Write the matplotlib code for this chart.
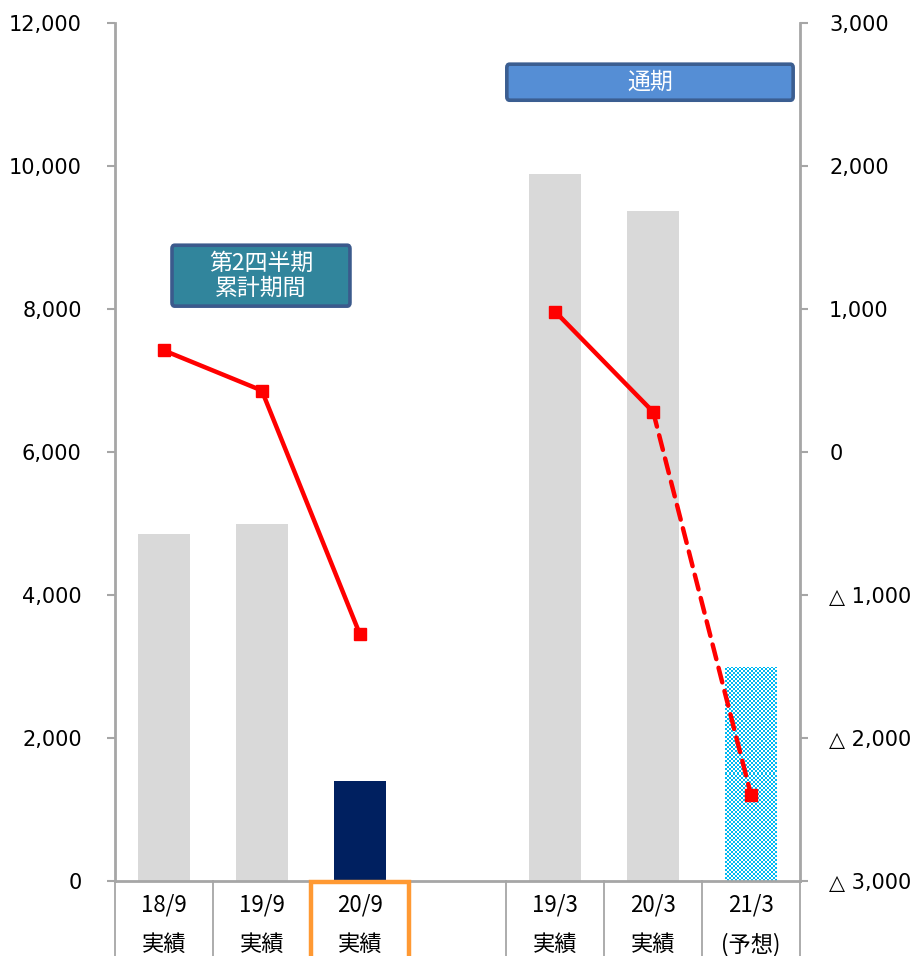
import matplotlib
matplotlib.use("Agg")
import matplotlib.pyplot as plt
import matplotlib.patches as mpatches
import matplotlib.transforms as mtransforms
from matplotlib.colors import ListedColormap
import numpy as np

plt.rcParams['font.family'] = ['DejaVu Sans', 'Noto Sans CJK JP']

# ---- data ----
periods = ["18/9", "19/9", "20/9", "", "19/3", "20/3", "21/3"]
kinds = ["実績", "実績", "実績", "", "実績", "実績", "(予想)"]
bar_values = [4850, 5000, 1400, None, 9890, 9370, 3000]          # left axis
line_values = [710, 430, -1270, None, 980, 280, -2400]             # right axis
bar_colors = ["#D9D9D9", "#D9D9D9", "#002060", None, "#D9D9D9", "#D9D9D9", "checker"]
left_ticks = [0, 2000, 4000, 6000, 8000, 10000, 12000]
right_ticks = [-3000, -2000, -1000, 0, 1000, 2000, 3000]
box1_text = "第2四半期\n累計期間"
box2_text = "通期"

W, H = 913, 956
fig = plt.figure(figsize=(W / 100, H / 100), dpi=100)
L, R, B, T = 115, 800, 881, 23
ax = fig.add_axes([L / W, 1 - B / H, (R - L) / W, (B - T) / H])
ax2 = ax.twinx()

x = np.arange(len(periods))
bw = 0.53
for xi, v, c in zip(x, bar_values, bar_colors):
    if v is None:
        continue
    if c == "checker":
        bar = ax.bar(xi, v, width=bw, color="white", linewidth=0, zorder=2)[0]
        x0, w = bar.get_x(), bar.get_width()
        nx, ny = 26, 107
        checker = (np.add.outer(np.arange(ny), np.arange(nx)) % 2).astype(float)
        cmap = ListedColormap(["#FFFFFF", "#00B8F0"])
        im = ax.imshow(checker, cmap=cmap, extent=[x0, x0 + w, 0, bar.get_height()],
                       interpolation="nearest", aspect="auto", zorder=2)
        im.set_clip_path(bar)
    else:
        ax.bar(xi, v, width=bw, color=c, linewidth=0, zorder=2)

ax.set_xlim(-0.5, len(periods) - 0.5)
ax.set_ylim(0, 12000)
ax.set_yticks(left_ticks)
ax.set_yticklabels([f"{t:,}" for t in left_ticks], fontsize=15)
ax.set_xticks([])

ax2.set_ylim(-3000, 3000)
ax2.set_yticks(right_ticks)
ax2.set_yticklabels([f"△ {abs(t):,}" if t < 0 else f"{t:,}" for t in right_ticks], fontsize=15)

spine_c = "#A6A6A6"
for a in (ax, ax2):
    a.spines["top"].set_visible(False)
    for s in ("left", "right", "bottom"):
        a.spines[s].set_color(spine_c)
        a.spines[s].set_linewidth(2)
    a.tick_params(axis="y", color=spine_c, width=1.5, length=6)
ax.tick_params(axis="y", pad=18)
ax2.tick_params(axis="y", pad=15)
ax2.spines["bottom"].set_visible(False)
ax2.spines["left"].set_visible(False)
ax.spines["right"].set_visible(False)

# lines
red = "#FF0000"
ax2.plot(x[:3], line_values[:3], color=red, lw=3.2, zorder=3)
ax2.plot(x[4:6], line_values[4:6], color=red, lw=3.2, zorder=3)
ax2.plot(x[5:7], line_values[5:7], color=red, lw=3.2, zorder=3,
         dashes=(3.4, 2.0), dash_capstyle="round")
xs = [xi for xi, v in zip(x, line_values) if v is not None]
vs = [v for v in line_values if v is not None]
ax2.plot(xs, vs, linestyle="none", marker="s", markersize=9, color=red, zorder=4)

# category labels and separators below the axis
trans = mtransforms.blended_transform_factory(ax.transData, ax.transAxes)
for xi, p, k in zip(x, periods, kinds):
    if p:
        ax.text(xi, -0.028, p, transform=trans, ha="center", va="center",
                fontsize=16, family=["Noto Sans CJK JP"])
        ax.text(xi, -0.074, k, transform=trans, ha="center", va="center",
                fontsize=16, family=["Noto Sans CJK JP"])
for b in np.arange(len(periods) + 1) - 0.5:
    ax.plot([b, b], [0, -0.12], transform=trans, color=spine_c, lw=1.3, clip_on=False, zorder=1)

# orange highlight box for 20/9
ax.add_patch(mpatches.Rectangle((1.5, -0.2), 1.0, 0.2 - 0.0015, transform=trans,
                                fill=False, edgecolor="#FF9933", lw=3.2, clip_on=False, zorder=5))

# annotation boxes (axes fraction)
def box(x0, y0, x1, y1, fc, ec, txt, fs):
    ax.add_patch(mpatches.FancyBboxPatch((x0, y0), x1 - x0, y1 - y0, transform=ax.transAxes,
                                         boxstyle="round,pad=0,rounding_size=0.004",
                                         facecolor=fc, edgecolor=ec, lw=2.6, clip_on=False, zorder=6))
    ax.text((x0 + x1) / 2, (y0 + y1) / 2, txt, transform=ax.transAxes, ha="center", va="center",
            color="white", fontsize=fs, family=["Noto Sans CJK JP"], linespacing=1.1, zorder=7)

box(0.0832, 0.670, 0.343, 0.741, "#31859C", "#3B5A8C", box1_text, 16.5)
box(0.572, 0.910, 0.990, 0.952, "#558ED5", "#3B5E91", box2_text, 16.5)

fig.savefig("out.png", dpi=100)
